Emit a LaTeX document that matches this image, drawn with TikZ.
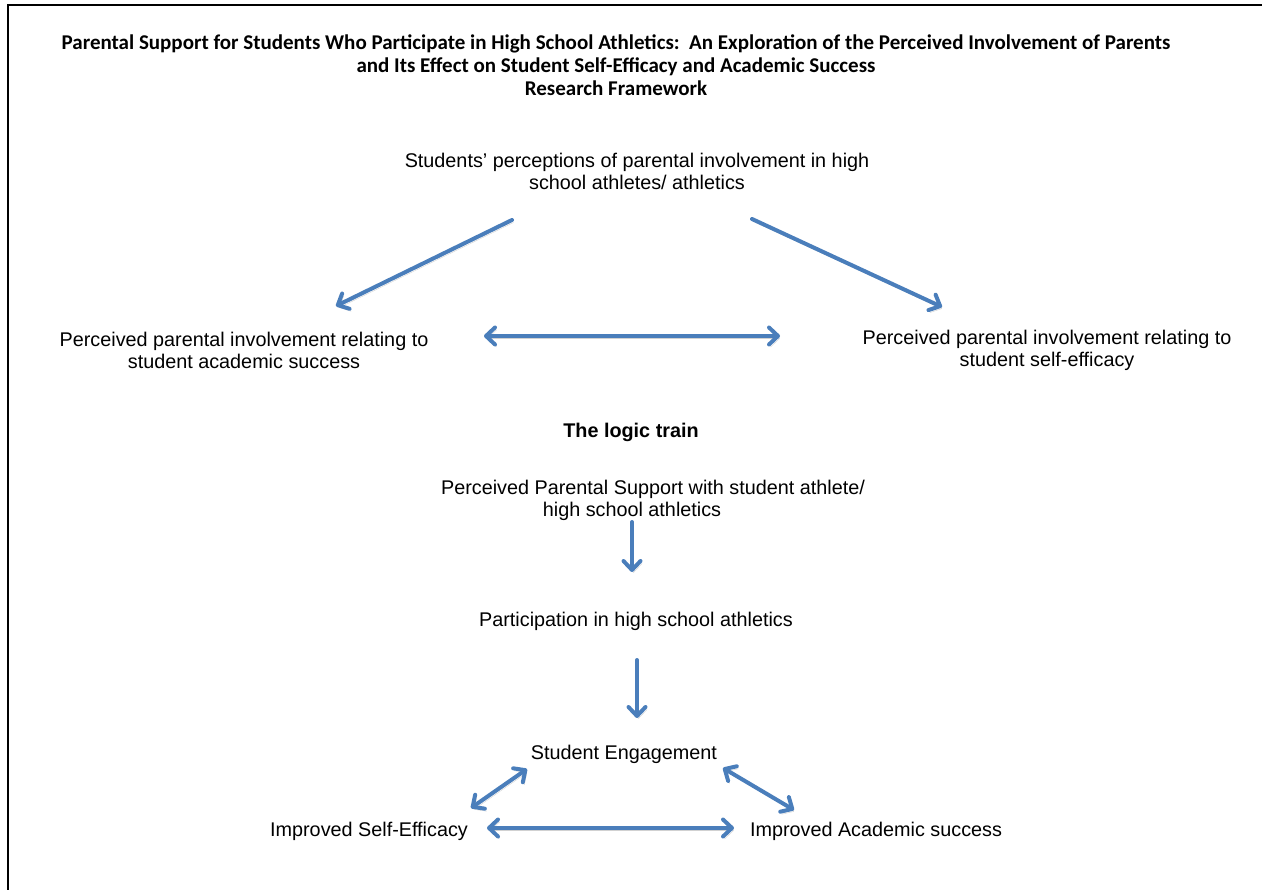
\documentclass[tikz,border=0pt]{standalone}
\usepackage{fontspec}
\setmainfont{Liberation Sans}
\newfontfamily\titlefont{Carlito}
\usetikzlibrary{arrows.meta,calc}
\definecolor{arrowblue}{RGB}{74,126,187}
\tikzset{
  arr/.style={draw=arrowblue, line width=4pt, line cap=round, line join=round,
    -{Straight Barb[length=9pt,width=17pt,line cap=round,line join=round]},
    preaction={draw=black, draw opacity=0.18, transform canvas={shift={(1.5pt,-2.5pt)}}}},
  darr/.style={arr, {Straight Barb[length=9pt,width=17pt,line cap=round,line join=round]}-{Straight Barb[length=9pt,width=17pt,line cap=round,line join=round]}},
  body/.style={align=center, inner sep=0pt, font=\fontsize{19.8}{22}\selectfont},
  ttl/.style={align=center, inner sep=0pt, font=\titlefont\bfseries\fontsize{21}{23}\selectfont}
}
\begin{document}
\begin{tikzpicture}[x=1pt,y=-1pt]
\useasboundingbox (0,0) rectangle (1262,890);
\draw[line width=2.2pt] (8,890) -- (8,5) -- (1262,5);

\node[ttl] (title) at (616,65) {Parental Support for Students Who Participate in High School Athletics:\ \ An Exploration of the Perceived Involvement of Parents\\
and Its Effect on Student Self-Efficacy and Academic Success\\
Research Framework};

\node[body] (top) at (637,171) {Students' perceptions of parental involvement in high\\ school athletes/ athletics};
\node[body] (L) at (244,350) {Perceived parental involvement relating to\\ student academic success};
\node[body] (R) at (1047,350) {Perceived parental involvement relating to\\ student self-efficacy};
\node[body, font=\bfseries\fontsize{19.8}{22}\selectfont] (logic) at (631,432) {The logic train};
\node[body] (pps) at (653,500) {Perceived Parental Support with student athlete/\\ high school athletics\hspace{42pt}\mbox{}};
\node[body] (part) at (636,621) {Participation in high school athletics};
\node[body] (eng) at (624,754) {Student Engagement};
\node[body] (ise) at (369,831) {Improved Self-Efficacy};
\node[body] (ias) at (876,831) {Improved Academic success};

\draw[arr] ($(top.center)+(-125,49)$) -- ($(L.center)+(92,-44)$);
\draw[arr] ($(top.center)+(115,48)$) -- ($(R.center)+(-105,-43)$);
\draw[darr] ($(L.center)+(240,-14)$) -- ($(R.center)+(-267,-14)$);
\draw[arr] ($(pps.center)+(-21,22)$) -- ($(part.center)+(-4,-49)$);
\draw[arr] ($(part.center)+(1,39)$) -- ($(eng.center)+(13,-36)$);
\draw[darr] ($(eng.center)+(-97,15)$) -- ($(ise.center)+(102,-23)$);
\draw[darr] ($(eng.center)+(99,14)$) -- ($(ias.center)+(-82,-21)$);
\draw[darr] ($(ise.center)+(118,-3)$) -- ($(ias.center)+(-142,-3)$);
\end{tikzpicture}
\end{document}
